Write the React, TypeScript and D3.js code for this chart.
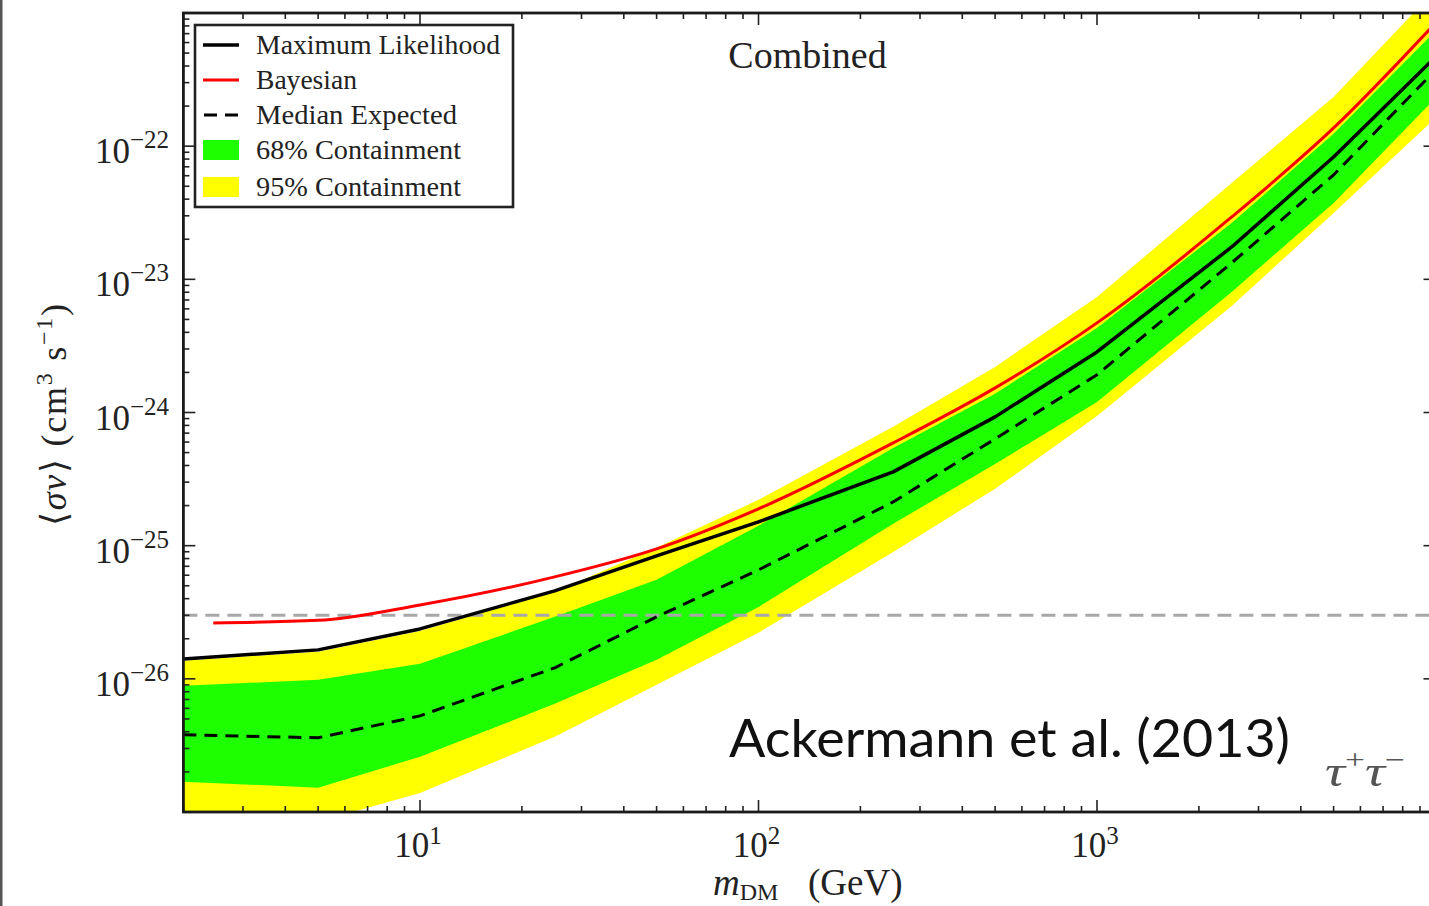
import React from "react";
import * as d3 from "d3";

const MASSES = [2, 5, 10, 25, 50, 100, 250, 500, 1000, 2500, 5000, 10000];
const ML = [1.41e-26, 1.65e-26, 2.37e-26, 4.58e-26, 8.39e-26, 1.51e-25, 3.58e-25, 9.27e-25, 2.85e-24, 1.75e-23, 8.3e-23, 4.67e-22];
const MEDIAN = [3.8e-27, 3.61e-27, 5.27e-27, 1.21e-26, 2.92e-26, 6.58e-26, 2.13e-25, 6.34e-25, 1.92e-24, 1.33e-23, 6.08e-23, 3.73e-22];
const C68_HI = [8.86e-27, 9.83e-27, 1.3e-26, 2.92e-26, 5.54e-26, 1.41e-25, 5.42e-25, 1.38e-24, 4.32e-24, 2.65e-23, 1.24e-22, 7.33e-22];
const C68_LO = [1.69e-27, 1.52e-27, 2.6e-27, 6.49e-27, 1.39e-26, 3.47e-26, 1.46e-25, 4.11e-25, 1.2e-24, 8.04e-24, 3.75e-23, 2.3e-22];
const C95_HI = [1.37e-26, 1.6e-26, 2.29e-26, 4.5e-26, 9.63e-26, 2.21e-25, 7.8e-25, 2.2e-24, 7.38e-24, 5.29e-23, 2.34e-22, 1.49e-21];
const C95_LO = [9.05e-28, 8.44e-28, 1.39e-27, 3.67e-27, 9.02e-27, 2.22e-26, 8.98e-26, 2.67e-25, 9.43e-25, 6.31e-24, 3.15e-23, 1.63e-22];
const BAYES_MASSES = [2.45, 5, 10, 25, 50, 100, 250, 500, 1000, 2500, 5000, 10000];
const BAYES = [2.63e-26, 2.75e-26, 3.59e-26, 5.83e-26, 9.46e-26, 1.89e-25, 5.91e-25, 1.53e-24, 4.71e-24, 2.94e-23, 1.37e-22, 8.41e-22];
const RELIC = 3e-26;

const X_TICK_LABELS = [
  { v: 10, exp: "1" },
  { v: 100, exp: "2" },
  { v: 1000, exp: "3" },
];
const Y_TICK_LABELS = [
  { v: 1e-22, exp: "−22" },
  { v: 1e-23, exp: "−23" },
  { v: 1e-24, exp: "−24" },
  { v: 1e-25, exp: "−25" },
  { v: 1e-26, exp: "−26" },
];
const LEGEND_ITEMS = ["Maximum Likelihood", "Bayesian", "Median Expected", "68% Containment", "95% Containment"];

const W = 1429;
const H = 906;
const X0 = 183.4;
const X1 = 1435.5;
const Y0 = 13;
const Y1 = 812;
const SERIF = "'Liberation Serif', 'DejaVu Serif', serif";
const GREEN = "#1eff00";
const YELLOW = "#ffff00";
const LEGEND_TEXT_W = [244, 101, 201, 205, 205];

export default function App() {
  const x = d3.scaleLog().domain([2, 1e4]).range([X0, X1]);
  const y = d3.scaleLog().domain([1e-27, 1e-21]).range([Y1, Y0]);

  const idx = MASSES.map((_, i) => i);
  const area95 = d3
    .area<number>()
    .x((i) => x(MASSES[i]))
    .y0((i) => y(C95_LO[i]))
    .y1((i) => y(C95_HI[i]))(idx) as string;
  const area68 = d3
    .area<number>()
    .x((i) => x(MASSES[i]))
    .y0((i) => y(C68_LO[i]))
    .y1((i) => y(C68_HI[i]))(idx) as string;
  const mlPath = d3
    .line<number>()
    .x((i) => x(MASSES[i]))
    .y((i) => y(ML[i]))(idx) as string;
  const medPath = d3
    .line<number>()
    .x((i) => x(MASSES[i]))
    .y((i) => y(MEDIAN[i]))(idx) as string;
  const bayesPath = d3
    .line<number>()
    .curve(d3.curveMonotoneX)
    .x((i) => x(BAYES_MASSES[i]))
    .y((i) => y(BAYES[i]))(BAYES_MASSES.map((_, i) => i)) as string;

  const xTicks: { v: number; major: boolean }[] = [];
  for (let e = 0; e <= 4; e++) {
    for (let k = 1; k <= 9; k++) {
      const v = k * Math.pow(10, e);
      if (v >= 2 && v <= 1e4) xTicks.push({ v, major: k === 1 });
    }
  }
  const yTicks: { v: number; major: boolean }[] = [];
  for (let e = -27; e <= -21; e++) {
    for (let k = 1; k <= 9; k++) {
      const v = k * Math.pow(10, e);
      if (v >= 1e-27 * 0.999 && v <= 1e-21 * 1.001) yTicks.push({ v, major: k === 1 });
    }
  }
  const MAJ = 12;
  const MIN = 6;

  const legendRowsY = [45, 80, 115, 150, 187];

  return (
    <svg
      width={W}
      height={H}
      viewBox={`0 0 ${W} ${H}`}
      style={{ position: "absolute", left: 0, top: 0, background: "#fff" }}
    >
      <defs>
        <clipPath id="plotclip">
          <rect x={X0} y={Y0} width={X1 - X0} height={Y1 - Y0} />
        </clipPath>
      </defs>
      <rect x={0} y={0} width={W} height={H} fill="#fff" />
      <rect x={0} y={0} width={2.5} height={H} fill="#555" />

      <g clipPath="url(#plotclip)">
        <path d={area95} fill={YELLOW} stroke="none" />
        <path d={area68} fill={GREEN} stroke="none" />
        <line
          x1={X0}
          x2={X1}
          y1={y(RELIC)}
          y2={y(RELIC)}
          stroke="#a8a8a8"
          strokeWidth={3}
          strokeDasharray="14,8"
        />
        <path d={medPath} fill="none" stroke="#000" strokeWidth={3} strokeDasharray="13,8" />
        <path d={mlPath} fill="none" stroke="#000" strokeWidth={3.5} strokeLinejoin="round" />
        <path d={bayesPath} fill="none" stroke="#ff0000" strokeWidth={3} />
      </g>

      <g stroke="#222" strokeWidth={1.6}>
        {xTicks.map((t, i) => {
          const xx = x(t.v);
          const l = t.major ? MAJ : MIN;
          return (
            <g key={"xt" + i}>
              <line x1={xx} x2={xx} y1={Y1} y2={Y1 - l} />
              <line x1={xx} x2={xx} y1={Y0} y2={Y0 + l} />
            </g>
          );
        })}
        {yTicks.map((t, i) => {
          const yy = y(t.v);
          const l = t.major ? MAJ : MIN;
          return (
            <g key={"yt" + i}>
              <line x1={X0} x2={X0 + l} y1={yy} y2={yy} />
              <line x1={X1} x2={X1 - l} y1={yy} y2={yy} />
            </g>
          );
        })}
      </g>

      <rect x={X0} y={Y0} width={X1 - X0} height={Y1 - Y0} fill="none" stroke="#1a1a1a" strokeWidth={2.8} />

      <g fontFamily={SERIF} fill="#222">
        {Y_TICK_LABELS.map((t, i) => (
          <text key={"yl" + i} x={169} y={y(t.v) + 17} fontSize={35} textAnchor="end">
            10
            <tspan dy={-15} fontSize={25}>
              {t.exp}
            </tspan>
          </text>
        ))}
        {X_TICK_LABELS.map((t, i) => (
          <text key={"xl" + i} x={x(t.v) - 2} y={857} fontSize={35} textAnchor="middle">
            10
            <tspan dy={-13} fontSize={25}>
              {t.exp}
            </tspan>
          </text>
        ))}
      </g>

      <text x={713} y={895} fontFamily={SERIF} fontSize={37} fill="#222">
        <tspan fontStyle="italic">m</tspan>
        <tspan fontSize={24} dy={5}>DM</tspan>
        <tspan x={808} dy={-5}>(GeV)</tspan>
      </text>
      <text
        transform="translate(66,526) rotate(-90)"
        x={0}
        y={0}
        fontFamily={SERIF}
        fontSize={36}
        fill="#222"
        textLength={222}
        lengthAdjust="spacing"
      >
        <tspan>⟨</tspan>
        <tspan fontStyle="italic">σv</tspan>
        <tspan>⟩ (cm</tspan>
        <tspan fontSize={24} dy={-14}>3</tspan>
        <tspan dy={14}> s</tspan>
        <tspan fontSize={24} dy={-14}>−1</tspan>
        <tspan dy={14}>)</tspan>
      </text>

      <text x={807.5} y={68} fontFamily={SERIF} fontSize={38} fill="#222" textAnchor="middle">
        Combined
      </text>

      <text
        x={729}
        y={757}
        fontFamily="Lato, 'Noto Sans', sans-serif"
        fontSize={52}
        fill="#111"
        textLength={561}
        lengthAdjust="spacingAndGlyphs"
      >
        Ackermann et al. (2013)
      </text>
      <text
        x={1325}
        y={786}
        fontFamily={SERIF}
        fontSize={44}
        fill="#555"
        fontStyle="italic"
        textLength={80}
        lengthAdjust="spacingAndGlyphs"
      >
        τ<tspan fontSize={28} dy={-17} fontStyle="normal">+</tspan>
        <tspan dy={17}>τ</tspan>
        <tspan fontSize={28} dy={-17} fontStyle="normal">−</tspan>
      </text>

      <rect x={195} y={25} width={318} height={182} fill="#fff" stroke="#222" strokeWidth={2.6} />
      {LEGEND_ITEMS.map((label, i) => {
        const cy = legendRowsY[i];
        let sample: React.ReactNode = null;
        if (i === 0) sample = <line x1={203} x2={239} y1={cy} y2={cy} stroke="#000" strokeWidth={3.5} />;
        if (i === 1) sample = <line x1={203} x2={239} y1={cy} y2={cy} stroke="#ff0000" strokeWidth={3} />;
        if (i === 2)
          sample = (
            <line x1={204} x2={239} y1={cy} y2={cy} stroke="#000" strokeWidth={3} strokeDasharray="13,8" />
          );
        if (i === 3) sample = <rect x={203} y={cy - 10} width={36} height={20} fill={GREEN} />;
        if (i === 4) sample = <rect x={203} y={cy - 10} width={36} height={20} fill={YELLOW} />;
        return (
          <g key={"lg" + i}>
            {sample}
            <text
              x={256}
              y={cy + 9}
              fontFamily={SERIF}
              fontSize={27.5}
              fill="#222"
              textLength={LEGEND_TEXT_W[i]}
              lengthAdjust="spacingAndGlyphs"
            >
              {label}
            </text>
          </g>
        );
      })}
    </svg>
  );
}
